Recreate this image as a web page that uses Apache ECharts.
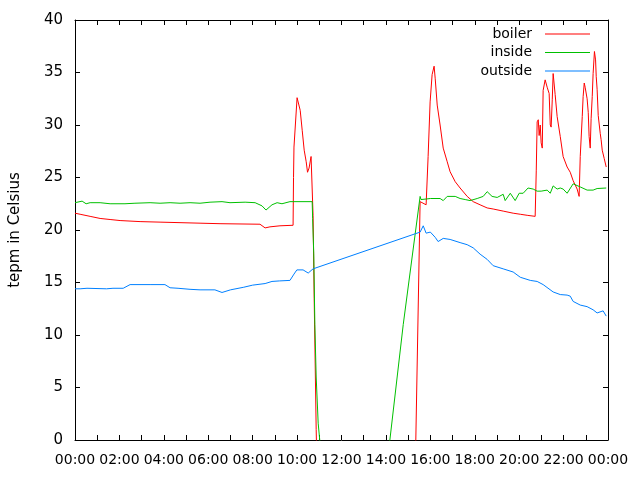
<!DOCTYPE html>
<html>
<head>
<meta charset="utf-8">
<script src="https://cdn.jsdelivr.net/npm/echarts@6/dist/echarts.min.js"></script>
<style>
  html, body { margin: 0; padding: 0; background: #fff; }
  #chart { width: 640px; height: 480px; }
</style>
</head>
<body>
<div id="chart"></div>
<script>
// time of day in hours
var boilerTime = [0, 0.23, 0.68, 1.13, 1.58, 2.03, 2.93, 3.83, 5.63, 6.53, 8.33, 8.56, 8.78, 9.23, 9.82,
  9.84, 9.86, 10.0, 10.14, 10.23, 10.32, 10.41, 10.47, 10.54, 10.63, 10.68, 10.72, 10.77, 10.86, 10.9,
  15.32, 15.54, 15.81, 15.86, 15.9, 15.99, 16.08, 16.17, 16.22, 16.31, 16.44, 16.58, 16.76, 16.89, 17.12,
  17.34, 17.66, 17.93, 18.24, 18.56, 18.83, 19.28, 19.73, 20.05, 20.36, 20.72, 20.77, 20.81, 20.86, 20.9,
  20.95, 20.99, 21.04, 21.08, 21.17, 21.22, 21.26, 21.35, 21.4, 21.44, 21.49, 21.53, 21.62, 21.71, 21.85,
  21.98, 22.16, 22.3, 22.43, 22.61, 22.7, 22.75, 22.84, 22.88, 22.93, 22.97, 23.06, 23.11, 23.15, 23.2,
  23.24, 23.29, 23.33, 23.39, 23.44, 23.47, 23.51, 23.56, 23.65, 23.69, 23.74, 23.83, 23.92];
var boilerTemp = [21.6, 21.5, 21.3, 21.1, 21.0, 20.9, 20.8, 20.75, 20.65, 20.6, 20.55, 20.2, 20.3, 20.4, 20.45,
  25.0, 27.9, 32.6, 31.4, 29.5, 27.6, 26.5, 25.5, 25.9, 27.0, 27.0, 21.4, 13.5, 1.0, -3.0,
  -3.0, 22.7, 22.4, 22.4, 27.0, 32.2, 34.8, 35.6, 34.4, 31.9, 30.0, 27.8, 26.5, 25.55, 24.6,
  24.0, 23.2, 22.7, 22.4, 22.1, 22.0, 21.8, 21.6, 21.5, 21.4, 21.3, 25.7, 30.3, 30.5, 29.0,
  30.0, 28.3, 27.8, 33.3, 34.3, 34.3, 33.6, 33.0, 30.0, 29.8, 32.4, 34.9, 32.9, 30.8, 28.9,
  27.0, 26.0, 25.5, 24.7, 23.9, 23.2, 27.0, 30.8, 32.7, 34.0, 33.6, 32.5, 31.2, 28.9, 27.8,
  30.6, 32.7, 34.9, 37.0, 36.2, 34.6, 33.4, 30.9, 29.2, 28.6, 27.6, 26.8, 26.0];

var insideTime = [0, 0.32, 0.5, 0.68, 1.13, 1.58, 2.25, 2.7, 3.38, 3.83, 4.28, 4.73, 5.18, 5.63, 6.08,
  6.62, 6.98, 7.66, 8.11, 8.42, 8.6, 8.87, 9.1, 9.32, 9.68, 10.68, 10.7, 10.75, 10.8, 10.86, 10.95,
  11.02, 11.1, 13.74, 14.78, 15.54, 15.58, 15.81, 16.0, 16.44, 16.58, 16.76, 17.12, 17.34, 17.57, 17.79,
  18.11, 18.38, 18.56, 18.78, 19.01, 19.28, 19.37, 19.6, 19.82, 20.0, 20.18, 20.4, 20.63, 20.81, 20.99,
  21.26, 21.4, 21.53, 21.71, 21.85, 21.98, 22.16, 22.43, 22.75, 23.06, 23.33, 23.51, 23.92];
var insideTemp = [22.6, 22.75, 22.5, 22.6, 22.6, 22.5, 22.5, 22.55, 22.6, 22.55, 22.6, 22.55, 22.6, 22.55, 22.65,
  22.7, 22.6, 22.65, 22.6, 22.3, 21.9, 22.4, 22.6, 22.5, 22.7, 22.7, 21.1, 17.8, 11.0, 6.0, 1.6,
  0.0, -1.0, -8.0, 11.0, 23.2, 22.9, 22.95, 23.0, 23.0, 22.8, 23.2, 23.2, 23.0, 22.9, 22.8,
  23.0, 23.2, 23.65, 23.2, 23.1, 23.4, 22.8, 23.5, 22.8, 23.5, 23.5, 24.0, 23.9, 23.7, 23.7,
  23.8, 23.5, 24.2, 23.9, 24.0, 23.9, 23.5, 24.4, 24.1, 23.8, 23.8, 23.95, 24.0];

var outsideTime = [0, 0.23, 0.54, 1.42, 1.71, 2.17, 2.48, 3.38, 4.05, 4.28, 4.64, 5.18, 5.63, 6.3, 6.62,
  7.0, 7.6, 8.0, 8.56, 8.87, 9.2, 9.68, 9.86, 9.99, 10.27, 10.5, 10.72, 15.54, 15.68, 15.81, 16.0,
  16.22, 16.35, 16.58, 16.89, 17.34, 17.66, 17.93, 18.24, 18.56, 18.83, 19.28, 19.73, 20.05, 20.5, 20.81,
  21.08, 21.53, 21.85, 22.16, 22.3, 22.43, 22.75, 23.06, 23.33, 23.51, 23.78, 23.92];
var outsideTemp = [14.4, 14.4, 14.45, 14.4, 14.45, 14.45, 14.8, 14.8, 14.8, 14.5, 14.45, 14.35, 14.3, 14.3, 14.05,
  14.3, 14.55, 14.75, 14.9, 15.1, 15.15, 15.2, 15.8, 16.2, 16.2, 15.9, 16.3, 19.8, 20.4, 19.7, 19.8,
  19.3, 18.9, 19.2, 19.1, 18.8, 18.6, 18.3, 17.7, 17.2, 16.6, 16.3, 16.0, 15.5, 15.2, 15.1,
  14.8, 14.1, 13.85, 13.8, 13.7, 13.2, 12.85, 12.7, 12.4, 12.1, 12.3, 11.8];

var seriesNames = ['boiler', 'inside', 'outside'];
var seriesColors = ['#ff0000', '#00c000', '#0080ff'];
var yAxisTitle = 'tepm in Celsius';

function zip(t, v) { return t.map(function (x, i) { return [x, v[i]]; }); }
var allData = [zip(boilerTime, boilerTemp), zip(insideTime, insideTemp), zip(outsideTime, outsideTemp)];

function fmtHour(v) {
  var h = Math.round(v) % 24;
  return (h < 10 ? '0' : '') + h + ':00';
}

var FONT = 'DejaVu Sans';
var axisLineStyle = { color: '#000', width: 1 };

function xAx(pos, showLabel) {
  return {
    type: 'value', position: pos, min: 0, max: 24, interval: 2,
    axisLine: { show: true, onZero: false, lineStyle: axisLineStyle },
    axisTick: { show: true, inside: true, length: 5, lineStyle: axisLineStyle },
    minorTick: { show: true, splitNumber: 2, length: 5, lineStyle: axisLineStyle },
    splitLine: { show: false },
    axisLabel: { show: showLabel, formatter: fmtHour, color: '#000', fontFamily: FONT, fontSize: 14, margin: 13 }
  };
}
function yAx(pos, showLabel) {
  return {
    type: 'value', position: pos, min: 0, max: 40, interval: 5,
    axisLine: { show: true, onZero: false, lineStyle: axisLineStyle },
    axisTick: { show: true, inside: true, length: 5, lineStyle: axisLineStyle },
    splitLine: { show: false },
    axisLabel: { show: showLabel, color: '#000', fontFamily: FONT, fontSize: 15, margin: 12 }
  };
}

var yLeft = yAx('left', true);
yLeft.name = yAxisTitle;
yLeft.nameLocation = 'middle';
yLeft.nameGap = 52;
yLeft.nameTextStyle = { color: '#000', fontFamily: FONT, fontSize: 15 };

var chart = echarts.init(document.getElementById('chart'), null, { renderer: 'canvas' });
chart.setOption({
  animation: false,
  backgroundColor: '#fff',
  grid: { left: 75, right: 32, top: 20, bottom: 40 },
  xAxis: [xAx('bottom', true), xAx('top', false)],
  yAxis: [yLeft, yAx('right', false)],
  legend: {
    orient: 'vertical', align: 'right', right: 45, top: 20,
    icon: 'rect', itemWidth: 45, itemHeight: 1, itemGap: 0.5,
    textStyle: { color: '#000', fontFamily: FONT, fontSize: 14, lineHeight: 18, padding: [0, 8, 0, 0] },
    data: seriesNames
  },
  series: seriesNames.map(function (n, i) {
    return {
      name: n, type: 'line', xAxisIndex: 0, yAxisIndex: 0,
      data: allData[i], showSymbol: false, symbol: 'none', clip: true,
      color: seriesColors[i],
      lineStyle: { color: seriesColors[i], width: 1 },
      itemStyle: { color: seriesColors[i] }
    };
  })
});
</script>
</body>
</html>
